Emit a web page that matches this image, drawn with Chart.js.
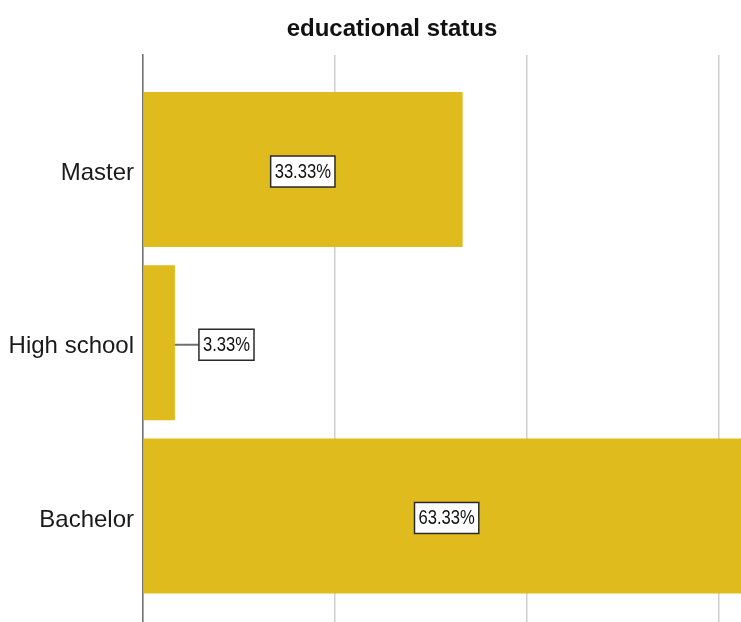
<!DOCTYPE html>
<html>
<head>
<meta charset="utf-8">
<title>educational status</title>
<script src="https://cdn.jsdelivr.net/npm/chart.js@4.4.1/dist/chart.umd.min.js"></script>
<style>
  html, body { margin: 0; padding: 0; background: #fff; overflow: hidden; }
  canvas { display: block; }
</style>
</head>
<body>
<canvas id="chart" width="741" height="622"></canvas>
<script>
// Percent of respondents per education level
const chartTitle = 'educational status';
const categories = ['Master', 'High school', 'Bachelor'];
const percents = [33.33, 3.33, 63.33];
const gridTicks = [0, 20, 40, 60];

const FONT = '"Liberation Sans", Arial, sans-serif';
const BAR_COLOR = '#e0bb1e';
const LABEL_SQUEEZE = 0.83; // narrow the value-label text a bit

// Bold title centred above the plot
const titlePlugin = {
    id: 'spssTitle',
    afterDraw(chart) {
        const ctx = chart.ctx;
        ctx.save();
        ctx.font = 'bold 24px ' + FONT;
        ctx.fillStyle = '#111';
        ctx.textAlign = 'center';
        ctx.textBaseline = 'alphabetic';
        ctx.fillText(chartTitle, 392, 36);
        ctx.restore();
    }
};

// Boxed percentage labels, moved outside with a leader line when the bar is too short
const valueLabels = {
    id: 'valueLabels',
    afterDatasetsDraw(chart) {
        const ctx = chart.ctx;
        const xScale = chart.scales.x;
        const meta = chart.getDatasetMeta(0);
        ctx.save();
        ctx.font = '20px ' + FONT;
        meta.data.forEach((bar, i) => {
            const text = percents[i].toFixed(2) + '%';
            const boxW = ctx.measureText(text).width * LABEL_SQUEEZE + 8;
            const boxH = 31;
            const start = xScale.getPixelForValue(0);
            const end = xScale.getPixelForValue(percents[i]);
            const cy = bar.y + 2;
            let cx = (start + end) / 2;

            if (boxW > end - start - 10) {
                cx = end + 24 + boxW / 2;
                ctx.strokeStyle = '#6e6e6e';
                ctx.lineWidth = 2;
                ctx.beginPath();
                ctx.moveTo(end, cy);
                ctx.lineTo(cx - boxW / 2, cy);
                ctx.stroke();
            }

            ctx.fillStyle = '#fff';
            ctx.fillRect(cx - boxW / 2, cy - boxH / 2, boxW, boxH);
            ctx.strokeStyle = '#2a2a2a';
            ctx.lineWidth = 1.5;
            ctx.strokeRect(cx - boxW / 2, cy - boxH / 2, boxW, boxH);

            ctx.save();
            ctx.translate(cx, cy);
            ctx.scale(LABEL_SQUEEZE, 1);
            ctx.fillStyle = '#111';
            ctx.textAlign = 'center';
            ctx.textBaseline = 'middle';
            ctx.fillText(text, 0, 1);
            ctx.restore();
        });
        ctx.restore();
    }
};

new Chart(document.getElementById('chart'), {
    type: 'bar',
    data: {
        datasets: [{
            data: percents.map((v, i) => ({ x: v, y: i })),
            backgroundColor: BAR_COLOR,
            borderWidth: 0,
            categoryPercentage: 1,
            barPercentage: 0.895
        }]
    },
    options: {
        indexAxis: 'y',
        responsive: false,
        animation: false,
        layout: { padding: { top: 55, left: 0, right: 0, bottom: 0 } },
        plugins: {
            legend: { display: false },
            tooltip: { enabled: false },
            title: { display: false }
        },
        scales: {
            x: {
                type: 'linear',
                min: 0,
                max: 62.36,
                offset: false,
                afterBuildTicks: s => { s.ticks = gridTicks.map(v => ({ value: v })); },
                ticks: { display: false },
                grid: { color: '#cdcdcd', lineWidth: 1.5, drawTicks: false },
                border: { display: false }
            },
            y: {
                type: 'linear',
                reverse: true,
                offset: false,
                min: -0.661,
                max: 2.612,
                afterBuildTicks: s => { s.ticks = categories.map((_, i) => ({ value: i })); },
                afterFit: s => { s.width = 143; s.paddingTop = 0; s.paddingBottom = 0; },
                ticks: {
                    callback: v => categories[v] ?? '',
                    font: { size: 24, family: FONT },
                    color: '#1a1a1a',
                    padding: 9,
                    labelOffset: 4
                },
                grid: { display: false, drawTicks: false, offset: false },
                border: { display: true, color: '#707070', width: 1.5 }
            }
        }
    },
    plugins: [titlePlugin, valueLabels]
});
</script>
</body>
</html>
